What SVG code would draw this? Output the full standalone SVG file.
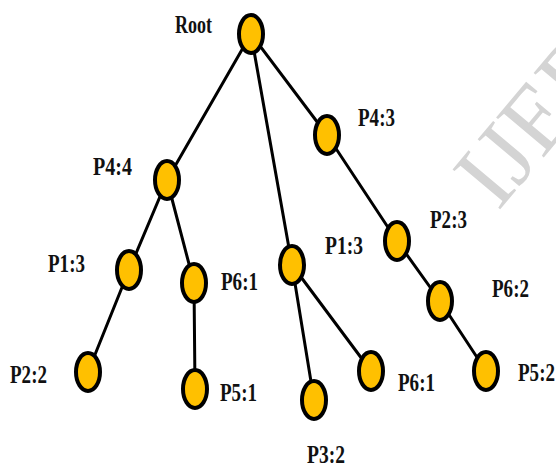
<svg xmlns="http://www.w3.org/2000/svg" width="556" height="471" viewBox="0 0 556 471">
  <style>
    .edge { stroke: #000; stroke-width: 3; stroke-linecap: round; fill: none; }
    .node { fill: #FFC000; stroke: #000; stroke-width: 4; }
    .lbl { font-family: "Liberation Serif", "Times New Roman", serif; font-weight: bold; font-size: 25px; fill: #111; }
    .mark { font-family: "Liberation Serif", "Times New Roman", serif; font-size: 95px; fill: #d4d4d4; }
  </style>
  <rect width="556" height="471" fill="#fff"/>

  <!-- background watermark -->
  <text class="mark" transform="translate(498,212) rotate(-50)">IJERT</text>

  <!-- tree edges -->
  <g id="connectors">
    <line class="edge" x1="251" y1="34" x2="167" y2="180"/>
    <line class="edge" x1="251" y1="34" x2="292" y2="265"/>
    <line class="edge" x1="251" y1="34" x2="327" y2="135"/>
    <line class="edge" x1="167" y1="180" x2="129" y2="270"/>
    <line class="edge" x1="167" y1="180" x2="194" y2="283"/>
    <line class="edge" x1="129" y1="270" x2="88" y2="372"/>
    <line class="edge" x1="194" y1="283" x2="195" y2="389"/>
    <line class="edge" x1="292" y1="265" x2="314" y2="400"/>
    <line class="edge" x1="292" y1="265" x2="371" y2="371"/>
    <line class="edge" x1="327" y1="135" x2="397" y2="241"/>
    <line class="edge" x1="397" y1="241" x2="440" y2="301"/>
    <line class="edge" x1="440" y1="301" x2="486" y2="371"/>
  </g>

  <!-- tree nodes -->
  <g id="root"><ellipse class="node" cx="251" cy="34" rx="12" ry="19"/><text class="lbl" x="175" y="33" textLength="37" lengthAdjust="spacingAndGlyphs">Root</text></g>
  <g id="p4-4"><ellipse class="node" cx="167" cy="180" rx="12" ry="19"/><text class="lbl" x="93" y="175" textLength="39" lengthAdjust="spacingAndGlyphs">P4:4</text></g>
  <g id="p4-3"><ellipse class="node" cx="327" cy="135" rx="12" ry="19"/><text class="lbl" x="358" y="126" textLength="37" lengthAdjust="spacingAndGlyphs">P4:3</text></g>
  <g id="p1-3-left"><ellipse class="node" cx="129" cy="270" rx="12" ry="19"/><text class="lbl" x="48" y="272" textLength="37" lengthAdjust="spacingAndGlyphs">P1:3</text></g>
  <g id="p6-1-left"><ellipse class="node" cx="194" cy="283" rx="12" ry="19"/><text class="lbl" x="221" y="290" textLength="37" lengthAdjust="spacingAndGlyphs">P6:1</text></g>
  <g id="p2-2"><ellipse class="node" cx="88" cy="372" rx="12" ry="19"/><text class="lbl" x="10" y="383" textLength="37" lengthAdjust="spacingAndGlyphs">P2:2</text></g>
  <g id="p5-1"><ellipse class="node" cx="195" cy="389" rx="12" ry="19"/><text class="lbl" x="220" y="401" textLength="37" lengthAdjust="spacingAndGlyphs">P5:1</text></g>
  <g id="p1-3-mid"><ellipse class="node" cx="292" cy="265" rx="12" ry="19"/><text class="lbl" x="325" y="254" textLength="38" lengthAdjust="spacingAndGlyphs">P1:3</text></g>
  <g id="p3-2"><ellipse class="node" cx="314" cy="400" rx="12" ry="19"/><text class="lbl" x="307" y="463" textLength="38" lengthAdjust="spacingAndGlyphs">P3:2</text></g>
  <g id="p6-1-mid"><ellipse class="node" cx="371" cy="371" rx="12" ry="19"/><text class="lbl" x="398" y="391" textLength="37" lengthAdjust="spacingAndGlyphs">P6:1</text></g>
  <g id="p2-3"><ellipse class="node" cx="397" cy="241" rx="12" ry="19"/><text class="lbl" x="430" y="228" textLength="37" lengthAdjust="spacingAndGlyphs">P2:3</text></g>
  <g id="p6-2"><ellipse class="node" cx="440" cy="301" rx="12" ry="19"/><text class="lbl" x="492" y="297" textLength="37" lengthAdjust="spacingAndGlyphs">P6:2</text></g>
  <g id="p5-2"><ellipse class="node" cx="486" cy="371" rx="12" ry="19"/><text class="lbl" x="518" y="381" textLength="37" lengthAdjust="spacingAndGlyphs">P5:2</text></g>
</svg>
